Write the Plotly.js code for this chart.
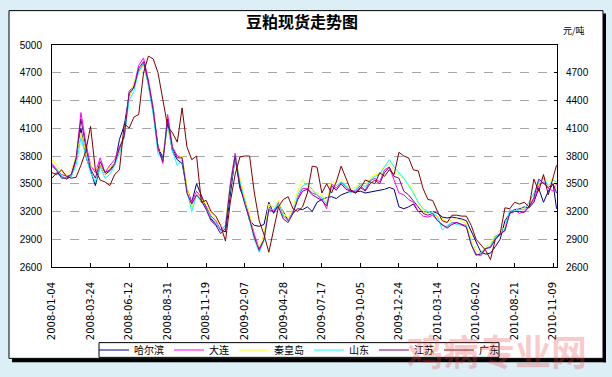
<!DOCTYPE html>
<html>
<head>
<meta charset="utf-8">
<script src="https://cdn.plot.ly/plotly-3.0.1.min.js"></script>
<style>html,body{margin:0;padding:0;background:#ddeff6;}#chart{width:612px;height:377px;}</style>
</head>
<body>
<div id="chart"></div>
<script>
const dates = ["2008-01-04","2008-01-14","2008-01-24","2008-02-03","2008-02-13","2008-02-23","2008-03-04","2008-03-14","2008-03-24","2008-04-03",
"2008-04-13","2008-04-23","2008-05-03","2008-05-13","2008-05-23","2008-06-02","2008-06-12","2008-06-22","2008-07-02","2008-07-12",
"2008-07-22","2008-08-01","2008-08-11","2008-08-21","2008-08-31","2008-09-10","2008-09-20","2008-09-30","2008-10-10","2008-10-20",
"2008-10-30","2008-11-09","2008-11-19","2008-11-29","2008-12-09","2008-12-19","2008-12-29","2009-01-08","2009-01-18","2009-01-28",
"2009-02-07","2009-02-17","2009-02-27","2009-03-09","2009-03-19","2009-03-29","2009-04-08","2009-04-18","2009-04-28","2009-05-08",
"2009-05-18","2009-05-28","2009-06-07","2009-06-17","2009-06-27","2009-07-07","2009-07-17","2009-07-27","2009-08-06","2009-08-16",
"2009-08-26","2009-09-05","2009-09-15","2009-09-25","2009-10-05","2009-10-15","2009-10-25","2009-11-04","2009-11-14","2009-11-24",
"2009-12-04","2009-12-14","2009-12-24","2010-01-03","2010-01-13","2010-01-23","2010-02-02","2010-02-12","2010-02-22","2010-03-04",
"2010-03-14","2010-03-24","2010-04-03","2010-04-13","2010-04-23","2010-05-03","2010-05-13","2010-05-23","2010-06-02","2010-06-12",
"2010-06-22","2010-07-02","2010-07-12","2010-07-22","2010-08-01","2010-08-11","2010-08-21","2010-08-31","2010-09-10","2010-09-20",
"2010-09-30","2010-10-10","2010-10-20","2010-10-30","2010-11-09","2010-11-16"];

const harbin = [3560,3620,3580,3550,3580,3760,4100,3800,3640,3480,
3700,3600,3640,3700,3980,4130,4450,4550,4720,4800,
4580,4280,3900,3780,4150,3850,3760,3720,3440,3300,
3500,3380,3250,3120,3060,3000,2980,3400,3780,3450,
3320,3100,3050,3040,3060,3300,3180,3280,3200,3100,
3180,3230,3220,3250,3200,3300,3330,3350,3360,3340,
3380,3400,3420,3410,3420,3400,3410,3420,3430,3440,
3460,3440,3250,3230,3250,3280,3200,3200,3190,3200,
3180,3140,3130,3140,3130,3120,3100,2980,2880,2760,
2740,2750,2820,2900,3100,3180,3220,3230,3250,3240,
3300,3450,3300,3420,3500,3230];

const dalian = [3720,3650,3600,3580,3600,3750,4270,3950,3700,3620,
3780,3620,3700,3760,3900,4000,4500,4560,4780,4860,
4620,4330,3900,3720,4250,3900,3800,3790,3450,3300,
3420,3350,3250,3150,3100,3000,3050,3500,3830,3500,
3300,3150,2950,2800,2900,3250,3200,3300,3150,3100,
3200,3350,3450,3450,3400,3380,3330,3230,3500,3450,
3520,3460,3430,3420,3480,3430,3530,3560,3520,3650,
3680,3550,3400,3380,3330,3300,3200,3150,3140,3160,
3100,3050,3030,3080,3080,3060,3050,2850,2740,2720,
2800,2820,2930,2960,2990,3200,3220,3180,3200,3260,
3320,3480,3520,3450,3420,3500];

const qinhuangdao = [3760,3700,3620,3600,3640,3800,4050,3850,3700,3650,
3700,3600,3680,3720,3850,4050,4420,4600,4700,4780,
4580,4300,3850,3850,4100,3880,3780,3800,3480,3230,
3400,3330,3280,3180,3120,3050,3100,3480,3780,3560,
3350,3180,2900,2820,2950,3280,3250,3320,3180,3130,
3250,3420,3550,3480,3420,3400,3380,3300,3530,3500,
3550,3480,3450,3460,3500,3480,3560,3600,3600,3700,
3720,3650,3600,3550,3500,3420,3280,3200,3180,3200,
3130,3120,3080,3110,3120,3100,3070,2900,2780,2750,
2820,2850,2950,3000,3020,3150,3200,3250,3230,3300,
3380,3500,3580,3520,3560,3450];

const shandong = [3680,3660,3580,3560,3580,3700,4000,3800,3620,3520,
3680,3560,3600,3700,3830,4000,4400,4500,4720,4800,
4560,4250,3820,3760,4150,3850,3700,3760,3420,3200,
3380,3300,3230,3130,3080,2980,3050,3450,3800,3520,
3300,3100,2900,2760,2880,3230,3220,3280,3150,3100,
3180,3380,3480,3500,3440,3380,3350,3280,3450,3480,
3520,3480,3400,3440,3500,3460,3540,3580,3600,3680,
3760,3680,3620,3560,3480,3400,3300,3230,3200,3180,
3150,3000,3050,3080,3060,3050,3040,2860,2720,2760,
2800,2830,2920,2960,3020,3220,3200,3220,3220,3300,
3400,3520,3560,3480,3540,3520];

const jiangsu = [3700,3640,3560,3560,3600,3780,4200,3900,3660,3560,
3740,3620,3650,3720,3880,4020,4480,4540,4750,4820,
4600,4300,3880,3740,4200,3880,3780,3780,3400,3280,
3380,3320,3220,3100,3050,2960,3020,3480,3800,3480,
3280,3120,2920,2780,2900,3220,3200,3250,3120,3080,
3180,3330,3420,3440,3380,3350,3320,3260,3480,3430,
3500,3440,3420,3400,3460,3420,3500,3540,3500,3620,
3680,3580,3560,3420,3380,3320,3250,3180,3160,3180,
3100,3060,3020,3060,3080,3060,3030,2840,2730,2740,
2800,2810,2900,2950,3000,3180,3200,3200,3190,3250,
3350,3550,3500,3460,3500,3400];

const guangdong = [3620,3600,3650,3580,3560,3570,3700,3850,4120,3650,
3540,3520,3480,3600,3650,4150,4100,4220,4250,4700,
4880,4850,4700,4400,4120,4050,3950,4320,3900,3760,
3800,3300,3320,3200,3150,3050,2880,3300,3600,3790,
3800,3800,3400,3100,2950,2760,3000,3250,3330,3360,
3230,3200,3250,3400,3690,3680,3400,3500,3400,3520,
3690,3550,3430,3400,3450,3540,3520,3500,3620,3580,
3650,3600,3840,3800,3780,3650,3640,3450,3330,3320,
3200,3100,3080,3160,3160,3150,3150,3050,2900,2840,
2780,2680,2900,2960,3240,3230,3300,3280,3300,3250,
3550,3420,3600,3380,3560,3700];

const seriesNames = ["哈尔滨","大连","秦皇岛","山东","江苏","广东"];
const seriesColors = ["#000080","#FF00FF","#FFFF00","#00FFFF","#800080","#800000"];
const xTickLabels = ["2008-01-04","2008-03-24","2008-06-12","2008-08-31","2008-11-19","2009-02-07","2009-04-28","2009-07-17","2009-10-05","2009-12-24","2010-03-14","2010-06-02","2010-08-21","2010-11-09"];
const yTicksLeft = [2600,2900,3200,3500,3800,4100,4400,4700,5000];
const yTicksRight = [2600,2900,3200,3500,3800,4100,4400,4700];

const allSeries = [harbin, dalian, qinhuangdao, shandong, jiangsu, guangdong];
const traces = allSeries.map((vals, i) => ({
  type: 'scatter', mode: 'lines', x: dates, y: vals, name: seriesNames[i],
  line: {color: seriesColors[i], width: 1},
  yaxis: i === 5 ? 'y2' : 'y'
}));

// pixel helpers for decoration (plot area: x 52..557, y 45..271)
const px = v => (v - 52) / 505;
const py = v => (271 - v) / 226;

const font = 'Liberation Sans, Arial, Noto Sans CJK SC, sans-serif';
const layout = {
  width: 612, height: 377,
  margin: {l: 52, r: 55, t: 45, b: 106, pad: 0},
  paper_bgcolor: '#ddeff6',
  plot_bgcolor: '#ffffff',
  font: {family: font, size: 10, color: '#000'},
  showlegend: true,
  title: {text: '<b>豆粕现货走势图</b>', font: {family: 'Noto Sans CJK SC, sans-serif', size: 16, color: '#000'},
          x: px(302), xref: 'paper', xanchor: 'center', y: py(31), yref: 'paper', yanchor: 'middle'},
  xaxis: {
    type: 'date', range: ['2008-01-04', '2010-11-17'],
    tickmode: 'array', tickvals: xTickLabels, ticktext: xTickLabels,
    tickangle: -90, ticks: 'inside', ticklen: 4, tickcolor: '#000',
    showline: true, linecolor: '#000', linewidth: 1, mirror: true,
    showgrid: false, zeroline: false,
    tickfont: {family: 'DejaVu Sans, sans-serif', size: 10, color: '#000'}, ticklabelstandoff: 10
  },
  yaxis: {
    range: [2600, 5000], tickmode: 'array', tickvals: yTicksLeft,
    ticks: '', showline: true, linecolor: '#000', linewidth: 1,
    showgrid: true, gridcolor: '#a6a6a6', griddash: 'dash', gridwidth: 1, zeroline: false,
    tickfont: {family: font, size: 10, color: '#000'}, ticklabelstandoff: 7
  },
  yaxis2: {
    overlaying: 'y', side: 'right', range: [2600, 5000], tickmode: 'array', tickvals: yTicksRight,
    ticks: 'inside', ticklen: 3, tickcolor: '#000',
    showline: true, linecolor: '#000', linewidth: 1, showgrid: false, zeroline: false,
    tickfont: {family: font, size: 10, color: '#000'}, ticklabelstandoff: 6
  },
  legend: {
    orientation: 'h', x: px(94), xanchor: 'left', y: py(355.5), yanchor: 'middle',
    bgcolor: 'rgba(0,0,0,0)', borderwidth: 0, itemwidth: 30,
    font: {family: 'Noto Sans CJK SC, sans-serif', size: 10, color: '#000'}
  },
  shapes: [
    {type: 'rect', xref: 'paper', yref: 'paper', x0: px(603), x1: px(606), y0: py(368), y1: py(13), fillcolor: '#000', line: {width: 0}, layer: 'below'},
    {type: 'rect', xref: 'paper', yref: 'paper', x0: px(12), x1: px(606), y0: py(368), y1: py(364), fillcolor: '#000', line: {width: 0}, layer: 'below'},
    {type: 'rect', xref: 'paper', yref: 'paper', x0: px(9), x1: px(603), y0: py(364), y1: py(10), fillcolor: '#fff', line: {color: '#000', width: 1}, layer: 'below'},
    {type: 'rect', xref: 'paper', yref: 'paper', x0: px(99), x1: px(499), y0: py(363), y1: py(348), fillcolor: 'rgba(0,0,0,0)', line: {color: '#000', width: 1}, layer: 'above'}
  ],
  annotations: [
    {text: '元/吨', xref: 'paper', yref: 'paper', x: px(574), y: py(30.5), xanchor: 'center', yanchor: 'middle', showarrow: false,
     font: {family: 'Noto Sans CJK SC, sans-serif', size: 9, color: '#000'}},
    {text: '<b>鸡病专业网</b>', xref: 'paper', yref: 'paper', x: px(497), y: py(356), xanchor: 'center', yanchor: 'middle', showarrow: false,
     font: {family: 'Noto Sans CJK SC, sans-serif', size: 36, color: 'rgba(235,70,70,0.28)'}}
  ]
};

Plotly.newPlot('chart', traces, layout, {staticPlot: true, displayModeBar: false});
</script>
</body>
</html>
